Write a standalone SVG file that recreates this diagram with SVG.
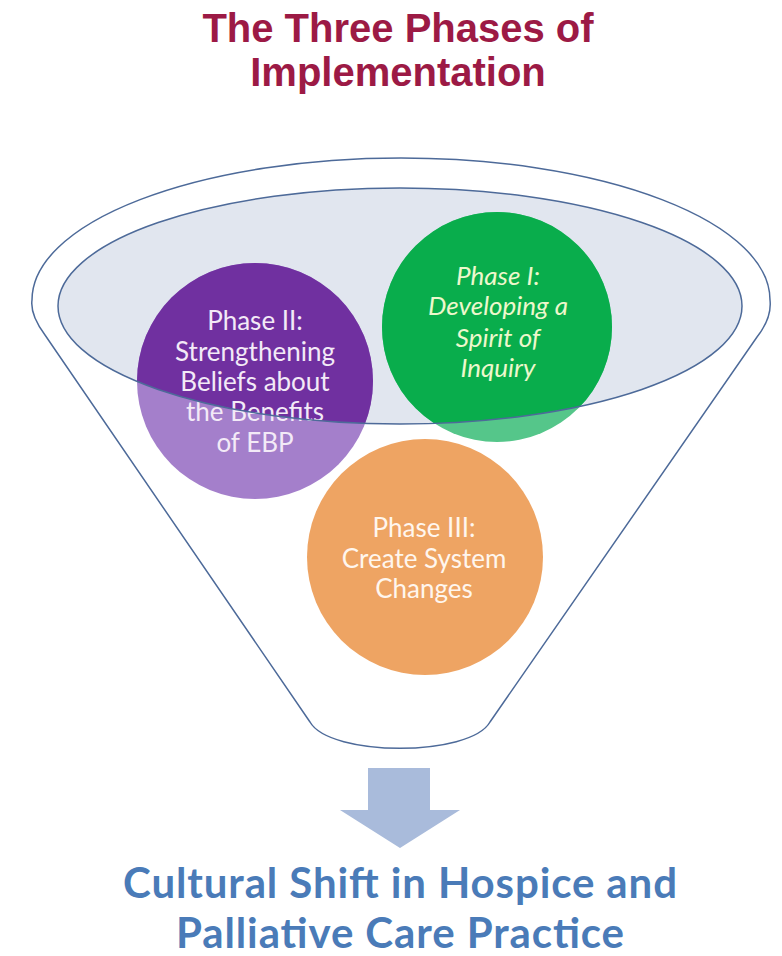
<svg xmlns="http://www.w3.org/2000/svg" width="782" height="956" viewBox="0 0 782 956">
<style>
.title{font-family:"Liberation Sans",Arial,sans-serif;font-weight:bold;font-size:40px;fill:#9C1A45;text-anchor:middle}
.lbl{font-family:Lato,"Open Sans",sans-serif;font-size:26px;text-anchor:middle}
.foot{font-family:Lato,"Open Sans",sans-serif;font-weight:bold;font-size:42px;fill:#4A7BB8;text-anchor:middle}
.edge{fill:none;stroke:#4D6A99;stroke-width:1.5}
</style>
<defs>
<clipPath id="inEll"><ellipse cx="400" cy="306" rx="342" ry="118"/></clipPath>
</defs>
<rect width="782" height="956" fill="#FFFFFF"/>
<g id="title">
<text class="title" x="398" y="42">The Three Phases of</text>
<text class="title" x="398" y="86">Implementation</text>
</g>
<g id="funnel">
<path class="edge" d="M 310 722 L 45 335 Q 30 315 32 300 A 369 142 0 0 1 770 300 Q 772 318 757 337 L 490 722 C 470 757 330 757 310 722 Z"/>
<ellipse cx="400" cy="306" rx="342" ry="118" fill="#E1E6EF"/>
</g>
<g id="phase2">
<circle cx="255" cy="381" r="118" fill="#A47FCB"/>
<circle cx="255" cy="381" r="118" fill="#7030A0" clip-path="url(#inEll)"/>
<text class="lbl" fill="#F3EAF7"><tspan x="255" y="330">Phase II:</tspan><tspan x="255" y="361">Strengthening</tspan><tspan x="255" y="391">Beliefs about</tspan><tspan x="255" y="421">the Benefits</tspan><tspan x="255" y="452">of EBP</tspan></text>
</g>
<g id="phase1">
<circle cx="497" cy="327" r="115" fill="#55C68A"/>
<circle cx="497" cy="327" r="115" fill="#09AD4C" clip-path="url(#inEll)"/>
<text class="lbl" fill="#EDF8CC" font-style="italic"><tspan x="498" y="285">Phase I:</tspan><tspan x="498" y="315">Developing a</tspan><tspan x="498" y="347">Spirit of</tspan><tspan x="498" y="377">Inquiry</tspan></text>
</g>
<g id="phase3">
<circle cx="425" cy="557" r="118" fill="#EEA463"/>
<text class="lbl" fill="#FFF6EE"><tspan x="424" y="537">Phase III:</tspan><tspan x="424" y="568">Create System</tspan><tspan x="424" y="598">Changes</tspan></text>
</g>
<g id="connectors">
<ellipse class="edge" cx="400" cy="306" rx="342" ry="118"/>
<polygon points="368,768 430,768 430,810 460,810 400,848 340,810 368,810" fill="#A9BBDB"/>
</g>
<g id="result">
<text class="foot" x="400" y="898" textLength="554" lengthAdjust="spacing">Cultural Shift in Hospice and</text>
<text class="foot" x="400" y="948" textLength="448" lengthAdjust="spacing">Palliative Care Practice</text>
</g>
</svg>
